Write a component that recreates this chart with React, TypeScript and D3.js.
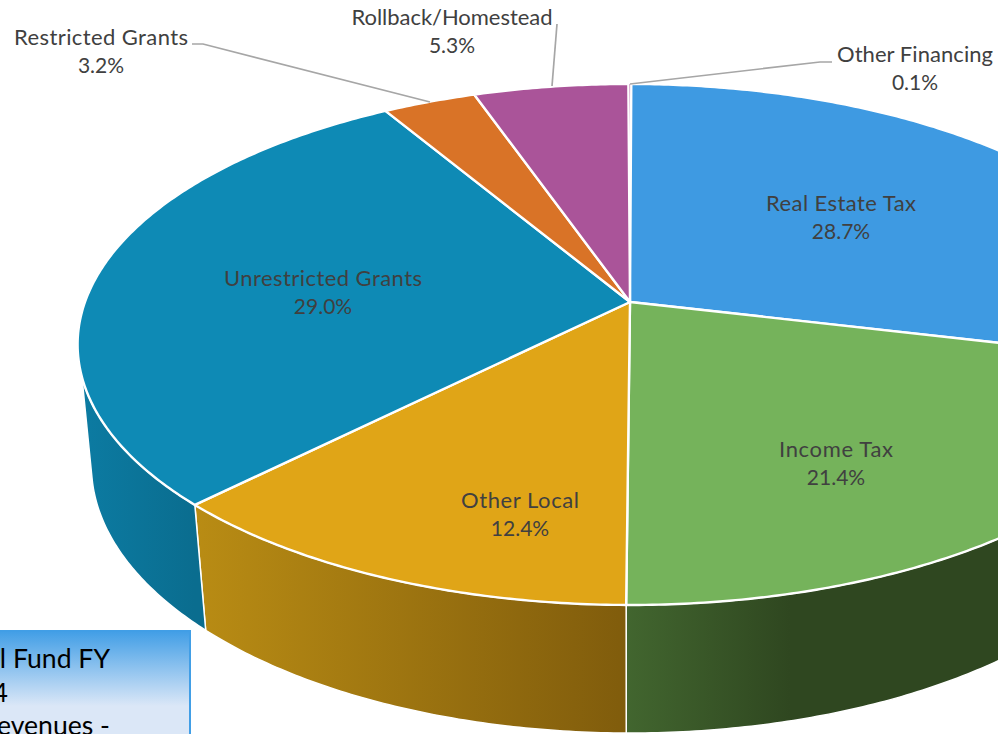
import React from "react";
import * as d3 from "d3";

const categories = ["Other Financing", "Real Estate Tax", "Income Tax", "Other Local", "Unrestricted Grants", "Restricted Grants", "Rollback/Homestead"];
const shares = [0.1, 28.7, 21.4, 12.4, 29.0, 3.2, 5.3];
const pctLabels = ["0.1%", "28.7%", "21.4%", "12.4%", "29.0%", "3.2%", "5.3%"];
const fills = ["#aa5499", "#3e9ae2", "#75b35b", "#e0a517", "#0e8ab5", "#d97327", "#aa5499"];
const sideStops: ([string, string] | null)[] = [null, null, ["#2f4720", "#42662f"], ["#805c0c", "#b98c14"], ["#0a6d8f", "#0c7ba2"], null, null];
const boxLines = ["General Fund FY", "2024", "Revenues -"];

// layout
const labelPos: [number, number][] = [[915, 62], [841, 211], [836, 457], [520, 508], [323, 286], [101, 45], [452, 25]];
const nameWidths = [156, 150, 114, 118, 198, 174, 201];
const leaders: [number, number][][] = [
  [[832, 62], [820, 62], [630, 84]],
  [], [], [], [],
  [[192, 44], [203, 44], [430, 102]],
  [[557, 24], [552, 86]],
];
const cx = 630, cy = 302, k = -0.1631, py = 204.3, ax = 545;
const ell = { cy: 344, lowCy: 465, sx: 0.975, sy: 1.027 };
const SILH_L = (253.6 / 180) * Math.PI;
const SILH_L_LOW = (258 / 180) * Math.PI;
const SILH_R = (106.4 / 180) * Math.PI;
const START = -0.0035;

const top = (t: number): [number, number] => {
  const u = Math.sin(t), v = -Math.cos(t), w = 1 + k * v;
  return [cx + (ax * u) / w, (cy + py * v) / w];
};
const low = (p: [number, number]): [number, number] => [cx + (p[0] - cx) * ell.sx, ell.lowCy + (p[1] - ell.cy) * ell.sy];

const line = d3.line();
const sample = (a: number, b: number) => {
  const n = Math.max(2, Math.ceil(Math.abs(b - a) / 0.01));
  return d3.range(n + 1).map((i) => top(a + ((b - a) * i) / n));
};

const arcs = d3.pie<number>().sort(null).value((d) => d).startAngle(START).endAngle(2 * Math.PI + START)(shares);
const font = "Lato, 'Open Sans', sans-serif";

export default function App() {
  const sides = arcs.map((a, i) => {
    if (!sideStops[i]) return null;
    const s = Math.max(a.startAngle, SILH_R);
    const upper = sample(s, Math.min(a.endAngle, SILH_L));
    const lower = sample(s, i === 4 ? SILH_L_LOW : a.endAngle).map(low).reverse();
    return { i, d: line([...upper, ...lower]) + "Z", x0: Math.min(...upper.map((p) => p[0])), x1: Math.max(...upper.map((p) => p[0])) };
  }).filter(Boolean) as { i: number; d: string; x0: number; x1: number }[];

  return (
    <svg width={998} height={734} viewBox="0 0 998 734" style={{ position: "fixed", left: 0, top: 0, background: "#fff" }}>
      <defs>
        {sides.map((s) => (
          <linearGradient key={s.i} id={`side${s.i}`} gradientUnits="userSpaceOnUse" x1={s.i === 2 ? 790 : s.x1} x2={s.i === 2 ? 625 : s.x0} y1={0} y2={0}>
            <stop offset="0" stopColor={sideStops[s.i]![0]} />
            <stop offset="1" stopColor={sideStops[s.i]![1]} />
          </linearGradient>
        ))}
        <linearGradient id="boxFill" x1="0" x2="0" y1="0" y2="1">
          <stop offset="0" stopColor="#419ee6" />
          <stop offset="0.6" stopColor="#dbe7f7" />
          <stop offset="1" stopColor="#dbe7f7" />
        </linearGradient>
      </defs>

      {sides.map((s) => (
        <path key={s.i} d={s.d} fill={`url(#side${s.i})`} stroke="#fff" strokeWidth={1.5} strokeLinejoin="round" />
      ))}

      {arcs.map((a, i) => (
        <path key={i} d={line([[cx, cy], ...sample(a.startAngle, a.endAngle)]) + "Z"} fill={fills[i]} stroke="#fff" strokeWidth={i === 0 ? 0 : 2.4} strokeLinejoin="round" />
      ))}

      {leaders.map((l, i) =>
        l.length ? <path key={i} d={line(l)!} fill="none" stroke="#a6a6a6" strokeWidth={1.7} /> : null
      )}

      {categories.map((c, i) => (
        <g key={c} fontFamily={font} fill="#404040" textAnchor="middle">
          <text x={labelPos[i][0]} y={labelPos[i][1]} fontSize={22} textLength={nameWidths[i]} lengthAdjust="spacing">{c}</text>
          <text x={labelPos[i][0]} y={labelPos[i][1] + 28} fontSize={21}>{pctLabels[i]}</text>
        </g>
      ))}

      <rect x={-20} y={631} width={210} height={125} fill="url(#boxFill)" stroke="#419ee6" strokeWidth={2} />
      {boxLines.map((t, i) => (
        <text key={t} x={i === 1 ? 8 : 110} y={668 + i * 33.5} textAnchor="end" fontFamily={font} fontSize={26.6} fill="#000">{t}</text>
      ))}
    </svg>
  );
}
